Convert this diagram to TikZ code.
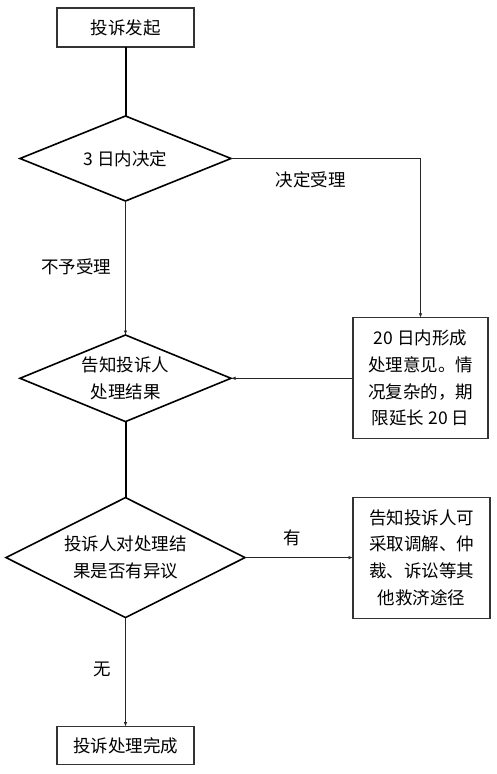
\documentclass[tikz,border=0pt]{standalone}
\usepackage{fontspec}
\setmainfont{Noto Sans CJK SC}
\usetikzlibrary{arrows.meta,shapes.geometric,positioning}

\begin{document}
\begin{tikzpicture}[
    font=\fontsize{17.5}{26.7}\selectfont,
    >={Latex[length=4.5pt,width=3.5pt]},
    flow/.style={->,draw=black!85,line width=0.8pt},
    trunk/.style={draw=black,line width=2pt},
    stepbox/.style={rectangle,draw=black!80,line width=1.1pt,outer sep=0pt,
      minimum width=137pt,minimum height=39pt,align=center},
    textbox/.style={rectangle,draw=black!80,line width=1.1pt,outer sep=0pt,
      minimum height=121pt,inner sep=0pt,align=center},
    decision/.style={diamond,draw=black,line width=1.6pt,outer sep=0pt,
      inner sep=0pt,aspect=2,align=center},
    note/.style={inner sep=0pt}
  ]
    \useasboundingbox (0,0) rectangle (496pt,-774pt);

    \node[stepbox] (start) at (125.5pt,-27.5pt) {投诉发起};
    \node[decision,minimum width=211pt,minimum height=85pt,below=69pt of start] (accept) {3 日内决定};
    \node[decision,minimum width=211pt,minimum height=86pt,below=134pt of accept] (inform) {告知投诉人\\处理结果};
    \node[decision,minimum width=239pt,minimum height=120pt,below=76pt of inform] (objection) {投诉人对处理结\\果是否有异议};
    \node[stepbox,minimum height=38pt,below=109pt of objection] (done) {投诉处理完成};

    \node[textbox,minimum width=135pt,right=122pt of inform] (opinion) {20 日内形成\\处理意见。情\\况复杂的，期\\限延长 20 日};
    \node[textbox,minimum width=137pt,right=108pt of objection] (redress) {告知投诉人可\\采取调解、仲\\裁、诉讼等其\\他救济途径};

    \draw[trunk] (start) -- (accept);
    \draw[flow] (accept.east) -| node[note,pos=0.21,yshift=-21pt] {决定受理} (opinion.north);
    \draw[flow] (accept.south) -- node[note,pos=0.49,xshift=-49pt] {不予受理} (inform.north);
    \draw[flow] (opinion.west) -- (inform.east);
    \draw[trunk] (inform) -- (objection);
    \draw[flow] (objection.east) -- node[note,pos=0.44,yshift=20pt] {有} (redress.west);
    \draw[flow] (objection.south) -- node[note,pos=0.48,xshift=-23pt] {无} (done.north);
\end{tikzpicture}
\end{document}
